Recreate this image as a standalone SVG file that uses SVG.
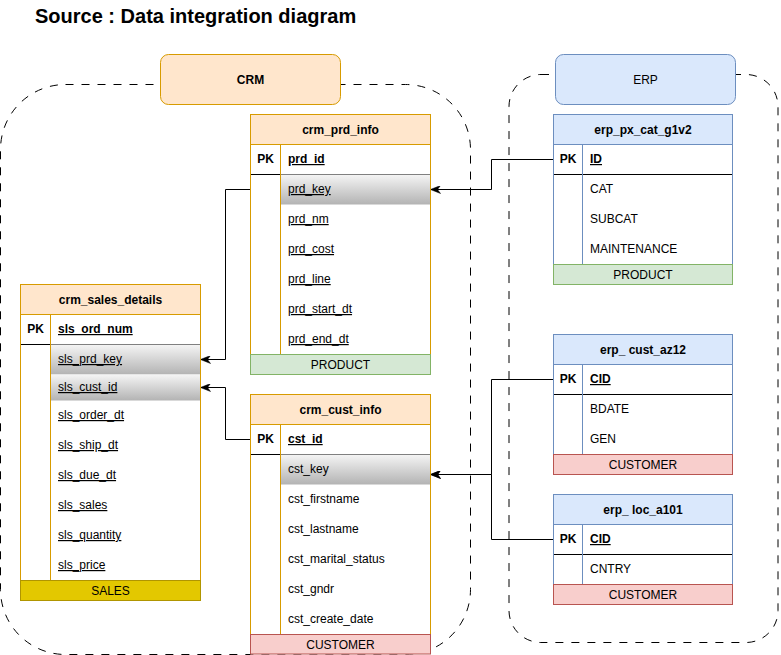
<svg xmlns="http://www.w3.org/2000/svg" width="781" height="655" viewBox="0 0 781 655">
<style>
text{font-family:"Liberation Sans",Arial,sans-serif;font-size:12px;fill:#000}
.title{font-size:20px;font-weight:bold}
.b{font-weight:bold}
.u{text-decoration:underline}
.c{text-anchor:middle}
.cont{fill:none;stroke:#000;stroke-width:1;stroke-dasharray:8 8}
.ob{fill:none;stroke:#d79b00}
.oh{fill:#ffe6cc;stroke:#d79b00}
.bb{fill:none;stroke:#6c8ebf}
.bh{fill:#dae8fc;stroke:#6c8ebf}
.bg{fill:#fff;stroke:none}
.gr{fill:url(#g);stroke:none}
.gl{stroke:#808080;fill:none}
.kl{stroke:#000;fill:none}
.od{stroke:#d79b00;fill:none}
.bd{stroke:#6c8ebf;fill:none}
.fg{fill:#d5e8d4;stroke:#82b366}
.fr{fill:#f8cecc;stroke:#b85450}
.fy{fill:#e3c800;stroke:#b09500}
.edge{fill:none;stroke:#000;stroke-width:1;marker-end:url(#arr)}
</style>
<defs>
<linearGradient id="g" x1="0" y1="0" x2="0" y2="1">
<stop offset="0" stop-color="#f5f5f5"/>
<stop offset="1" stop-color="#b3b3b3"/>
</linearGradient>
<marker id="arr" viewBox="0 0 10 8" refX="9.5" refY="4" markerWidth="10" markerHeight="8" markerUnits="userSpaceOnUse" orient="auto">
<path d="M0,0 L10,4 L0,8 L3,4 Z" fill="#000" stroke="#000" stroke-width="0.5"/>
</marker>
</defs>
<rect width="781" height="655" fill="#fff"/>
<text class="title" x="35" y="23">Source : Data integration diagram</text>

<g id="crm-container">
<rect class="cont" x="0.5" y="84.5" width="470" height="570" rx="65" ry="65"/>
</g>
<g id="erp-container">
<rect class="cont" x="509" y="74.5" width="269" height="568" rx="32" ry="32"/>
</g>

<g id="crm-label">
<rect x="160.5" y="54.5" width="180" height="50" rx="8" ry="8" fill="#ffe6cc" stroke="#d79b00"/>
<text class="b c" x="250.5" y="83.5">CRM</text>
</g>
<g id="erp-label">
<rect x="555.5" y="54.5" width="180" height="50" rx="8" ry="8" fill="#dae8fc" stroke="#6c8ebf"/>
<text class="c" x="645.5" y="83.5">ERP</text>
</g>

<g id="crm_prd_info">
<rect class="bg" x="250.5" y="114.5" width="180" height="260"/>
<rect class="oh" x="250.5" y="114.5" width="180" height="30"/>
<text class="b c" x="340.5" y="133.5">crm_prd_info</text>
<rect class="gr" x="280.5" y="174.5" width="150" height="30"/>
<line class="gl" x1="280.5" y1="174.5" x2="430.5" y2="174.5"/>
<line class="kl" x1="250.5" y1="174.5" x2="280.5" y2="174.5"/>
<line class="od" x1="280.5" y1="144.5" x2="280.5" y2="354.5"/>
<text class="b c" x="265.5" y="163">PK</text>
<text class="b u" x="288" y="163">prd_id</text>
<text class="u" x="288" y="193">prd_key</text>
<text class="u" x="288" y="223">prd_nm</text>
<text class="u" x="288" y="253">prd_cost</text>
<text class="u" x="288" y="283">prd_line</text>
<text class="u" x="288" y="313">prd_start_dt</text>
<text class="u" x="288" y="343">prd_end_dt</text>
<rect class="ob" x="250.5" y="114.5" width="180" height="240"/>
<rect class="fg" x="250.5" y="354.5" width="180" height="20"/>
<text class="c" x="340.5" y="368.5">PRODUCT</text>
</g>

<g id="crm_sales_details">
<rect class="bg" x="20.5" y="284.5" width="180" height="316"/>
<rect class="oh" x="20.5" y="284.5" width="180" height="30"/>
<text class="b c" x="110.5" y="303.5">crm_sales_details</text>
<rect class="gr" x="50.5" y="344.5" width="150" height="30"/>
<rect class="gr" x="50.5" y="374.5" width="150" height="26"/>
<line class="gl" x1="50.5" y1="344.5" x2="200.5" y2="344.5"/>
<line x1="50.5" y1="374.5" x2="200.5" y2="374.5" stroke="#e6e6e6"/>
<line class="kl" x1="20.5" y1="344.5" x2="50.5" y2="344.5"/>
<line class="od" x1="50.5" y1="314.5" x2="50.5" y2="580.5"/>
<text class="b c" x="35.5" y="333">PK</text>
<text class="b u" x="58" y="333">sls_ord_num</text>
<text class="u" x="58" y="363">sls_prd_key</text>
<text class="u" x="58" y="391">sls_cust_id</text>
<text class="u" x="58" y="419">sls_order_dt</text>
<text class="u" x="58" y="449">sls_ship_dt</text>
<text class="u" x="58" y="479">sls_due_dt</text>
<text class="u" x="58" y="509">sls_sales</text>
<text class="u" x="58" y="539">sls_quantity</text>
<text class="u" x="58" y="569">sls_price</text>
<rect class="ob" x="20.5" y="284.5" width="180" height="296"/>
<rect class="fy" x="20.5" y="580.5" width="180" height="20"/>
<text class="c" x="110.5" y="594.5">SALES</text>
</g>

<g id="crm_cust_info">
<rect class="bg" x="250.5" y="394.5" width="180" height="260"/>
<rect class="oh" x="250.5" y="394.5" width="180" height="30"/>
<text class="b c" x="340.5" y="413.5">crm_cust_info</text>
<rect class="gr" x="280.5" y="454.5" width="150" height="30"/>
<line class="gl" x1="280.5" y1="454.5" x2="430.5" y2="454.5"/>
<line class="kl" x1="250.5" y1="454.5" x2="280.5" y2="454.5"/>
<line class="od" x1="280.5" y1="424.5" x2="280.5" y2="634.5"/>
<text class="b c" x="265.5" y="443">PK</text>
<text class="b u" x="288" y="443">cst_id</text>
<text x="288" y="473">cst_key</text>
<text x="288" y="503">cst_firstname</text>
<text x="288" y="533">cst_lastname</text>
<text x="288" y="563">cst_marital_status</text>
<text x="288" y="593">cst_gndr</text>
<text x="288" y="623">cst_create_date</text>
<rect class="ob" x="250.5" y="394.5" width="180" height="240"/>
<rect class="fr" x="250.5" y="634.5" width="180" height="19.5"/>
<text class="c" x="340.5" y="648.5">CUSTOMER</text>
</g>

<g id="erp_px_cat_g1v2">
<rect class="bg" x="553.5" y="114.5" width="179" height="170"/>
<rect class="bh" x="553.5" y="114.5" width="179" height="30"/>
<text class="b c" x="643" y="133.5">erp_px_cat_g1v2</text>
<line class="kl" x1="553.5" y1="174.5" x2="732.5" y2="174.5"/>
<line class="bd" x1="582.5" y1="144.5" x2="582.5" y2="264.5"/>
<text class="b c" x="568" y="163">PK</text>
<text class="b u" x="590" y="163">ID</text>
<text x="590" y="193">CAT</text>
<text x="590" y="223">SUBCAT</text>
<text x="590" y="253">MAINTENANCE</text>
<rect class="bb" x="553.5" y="114.5" width="179" height="150"/>
<rect class="fg" x="553.5" y="264.5" width="179" height="20"/>
<text class="c" x="643" y="278.5">PRODUCT</text>
</g>

<g id="erp_cust_az12">
<rect class="bg" x="553.5" y="334.5" width="179" height="140"/>
<rect class="bh" x="553.5" y="334.5" width="179" height="30"/>
<text class="b c" x="643" y="353.5">erp_ cust_az12</text>
<line class="kl" x1="553.5" y1="394.5" x2="732.5" y2="394.5"/>
<line class="bd" x1="582.5" y1="364.5" x2="582.5" y2="454.5"/>
<text class="b c" x="568" y="383">PK</text>
<text class="b u" x="590" y="383">CID</text>
<text x="590" y="413">BDATE</text>
<text x="590" y="443">GEN</text>
<rect class="bb" x="553.5" y="334.5" width="179" height="120"/>
<rect class="fr" x="553.5" y="454.5" width="179" height="20"/>
<text class="c" x="643" y="468.5">CUSTOMER</text>
</g>

<g id="erp_loc_a101">
<rect class="bg" x="553.5" y="494.5" width="179" height="110"/>
<rect class="bh" x="553.5" y="494.5" width="179" height="30"/>
<text class="b c" x="643" y="513.5">erp_ loc_a101</text>
<line class="kl" x1="553.5" y1="554.5" x2="732.5" y2="554.5"/>
<line class="bd" x1="582.5" y1="524.5" x2="582.5" y2="584.5"/>
<text class="b c" x="568" y="543">PK</text>
<text class="b u" x="590" y="543">CID</text>
<text x="590" y="573">CNTRY</text>
<rect class="bb" x="553.5" y="494.5" width="179" height="90"/>
<rect class="fr" x="553.5" y="584.5" width="179" height="20"/>
<text class="c" x="643" y="598.5">CUSTOMER</text>
</g>

<g id="connectors">
<path class="edge" d="M553,159.5 H491.5 V189.5 H431"/>
<path class="edge" d="M250,189.5 H225.5 V359.5 H201"/>
<path class="edge" d="M250,439.5 H225.5 V387.5 H201"/>
<path class="edge" d="M553,379.5 H491.5 V474.5 H431"/>
<path class="edge" d="M553,539.5 H491.5 V474.5 H431"/>
</g>
</svg>
